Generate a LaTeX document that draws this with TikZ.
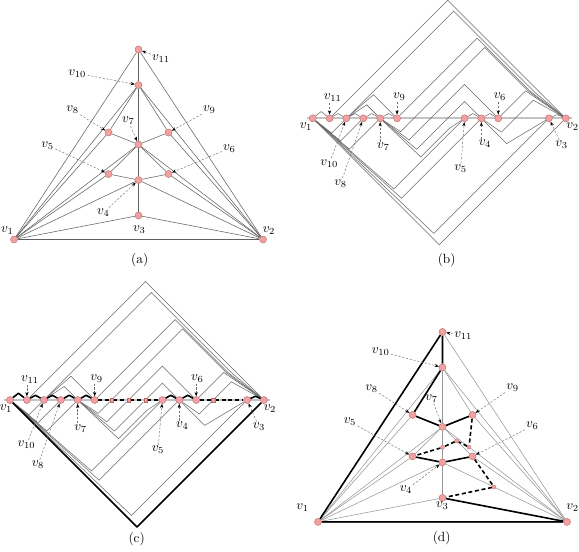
\documentclass[tikz,border=0pt]{standalone}
\usetikzlibrary{arrows.meta,calc}
\definecolor{nodefill}{RGB}{242,160,160}
\definecolor{nodedraw}{RGB}{185,105,105}
\definecolor{edgeA}{RGB}{95,95,95}
\definecolor{edgeB}{RGB}{105,105,105}
\definecolor{edgeD}{RGB}{150,150,150}
\definecolor{spinec}{RGB}{195,195,195}
\definecolor{arrowc}{RGB}{110,110,110}
\pgfdeclarelayer{background}
\pgfsetlayers{background,main}
\tikzset{
 vtx/.style={circle,fill=nodefill,draw=nodedraw,line width=0.3pt,inner sep=0pt,minimum size=5.3pt},
 dumsq/.style={rectangle,fill=nodefill,draw=nodedraw,line width=0.25pt,inner sep=0pt,minimum size=2.6pt},
 dumci/.style={circle,fill=nodefill,draw=nodedraw,line width=0.25pt,inner sep=0pt,minimum size=3pt},
 eA/.style={draw=edgeA,line width=0.4pt},
 eB/.style={draw=edgeB,line width=0.4pt},
 eD/.style={draw=edgeD,line width=0.4pt},
 thk/.style={draw=black,line width=1.2pt,line join=round},
 thkdash/.style={draw=black,line width=1.2pt,dash pattern=on 3pt off 2pt},
 spine/.style={draw=spinec,line width=1.3pt},
 lab/.style={inner sep=0.8pt,font=\fontsize{10}{12}\selectfont},
 captxt/.style={inner sep=0pt,font=\fontsize{10}{12}\selectfont},
 la/.style={draw=arrowc,line width=0.35pt,dash pattern=on 1.6pt off 1.3pt,-{Stealth[length=3.2pt,width=2.4pt,black]}},
}
\newcommand{\trinodes}[1]{%
 \node[vtx] (#1v1) at (14,239.5) {};
 \node[vtx] (#1v2) at (263,239.5) {};
 \node[vtx] (#1v3) at (138.5,215.5) {};
 \node[vtx] (#1v4) at (138.5,180) {};
 \node[vtx] (#1v5) at (108.5,174) {};
 \node[vtx] (#1v6) at (168.5,174) {};
 \node[vtx] (#1v7) at (138.5,144.5) {};
 \node[vtx] (#1v8) at (108.5,132.5) {};
 \node[vtx] (#1v9) at (168.5,132.5) {};
 \node[vtx] (#1v10) at (138.5,85) {};
 \node[vtx] (#1v11) at (138.5,49.5) {};
}
\newcommand{\triedges}[2]{%
 \foreach \ea/\eb in {1/2,1/3,2/3,3/4,1/4,2/4,4/5,1/5,4/6,2/6,4/7,5/7,6/7,1/7,2/7,1/8,7/8,2/9,7/9,1/10,8/10,7/10,9/10,2/10,1/11,10/11,2/11}
 {\draw[#2] (#1v\ea) -- (#1v\eb);}
}
\newcommand{\booknodes}[1]{%
 \node[vtx] (#1v1) at (0,0) {};
 \node[vtx] (#1v11) at (1,0) {};
 \node[vtx] (#1v10) at (2,0) {};
 \node[vtx] (#1v8) at (3,0) {};
 \node[vtx] (#1v7) at (4,0) {};
 \node[vtx] (#1v9) at (5,0) {};
 \node[vtx] (#1v5) at (9,0) {};
 \node[vtx] (#1v4) at (10,0) {};
 \node[vtx] (#1v6) at (11,0) {};
 \node[vtx] (#1v3) at (14,0) {};
 \node[vtx] (#1v2) at (15,0) {};
}
\newcommand{\bookedges}[1]{%
 % upper page: short arcs
 \draw[eB] (#1v1) -- (0.5,0.4) -- (#1v11);
 \draw[eB] (#1v11) -- (1.5,0.28) -- (#1v10);
 \draw[eB] (#1v10) -- (2.5,0.28) -- (#1v8);
 \draw[eB] (#1v8) -- (3.5,0.28) -- (#1v7);
 \draw[eB] (#1v7) -- (4.5,0.28) -- (#1v9);
 \draw[eB] (#1v5) -- (9.5,0.28) -- (#1v4);
 \draw[eB] (#1v4) -- (10.5,0.28) -- (#1v6);
 \draw[eB] (#1v3) -- (14.5,0.22) -- (#1v2);
 % upper page: long arcs
 \draw[eB] (#1v11) -- (8,7) -- (#1v2);
 \draw[eB] (#1v10) -- (8.35,6.35) -- (13.1,1.6) -- (#1v2);
 \draw[eB] (#1v9) -- (9.75,4.75) -- (12.9,1.6) -- (#1v2);
 \draw[eB] (#1v6) -- (12.625,1.625) -- (#1v2);
 \draw[eB] (#1v10) -- (3.6,1.4) -- (#1v9);
 \draw[eB] (#1v10) -- (3.2,0.8) -- (#1v7);
 % edges crossing the spine
 \draw[eB] (#1v7) -- (5.212,-0.788) -- (#1p6) -- (10.2,4.2) -- (12.8,1.6) -- (#1v2);
 \draw[eB] (#1v7) -- (5.714,-1.286) -- (#1p7) -- (9,2) -- (#1v6);
 \draw[eB] (#1v7) -- (6.162,-1.838) -- (#1p8) -- (9,1) -- (#1v4);
 \draw[eB] (#1v4) -- (11.18,-0.82) -- (#1p12) -- (13.075,1.075) -- (#1v2);
 % lower page
 \draw[eB] (#1v1) -- (7.5,-7.5) -- (#1v2);
 \draw[eB] (#1v1) -- (7.179,-6.821) -- (#1v3);
 \draw[eB] (#1v1) -- (5.263,-4.737) -- (#1v4);
 \draw[eB] (#1v1) -- (4.813,-4.187) -- (#1v5);
 \draw[eB] (#1v1) -- (2.174,-1.826) -- (#1v7);
 \draw[eB] (#1v1) -- (1.657,-1.343) -- (#1v8);
 \draw[eB] (#1v1) -- (1.124,-0.876) -- (#1v10);
 \draw[eB] (#1v7) -- (6.41,-2.29) -- (8.1,-0.6) -- (#1v5);
 \draw[eB] (#1v4) -- (11.5,-1.5) -- (#1v3);
}
\newcommand{\booklabels}[2]{%
 \node[lab] (#1l1) at (#2,126.7) {$v_1$};
 \node[lab] (#1l2) at (572.7,126.7) {$v_2$};
 \node[lab] (#1l11) at (332.7,97.7) {$v_{11}$};
 \node[lab] (#1l9) at (399.3,96.7) {$v_9$};
 \node[lab] (#1l6) at (500,96.7) {$v_6$};
 \node[lab] (#1l10) at (329.3,163.3) {$v_{10}$};
 \node[lab] (#1l8) at (340.7,183.3) {$v_8$};
 \node[lab] (#1l7) at (383.3,146.7) {$v_7$};
 \node[lab] (#1l5) at (460.7,168.3) {$v_5$};
 \node[lab] (#1l4) at (485,144) {$v_4$};
 \node[lab] (#1l3) at (561.7,145) {$v_3$};
 \draw[la] (#1l11.south -| #1v11) -- (#1v11);
 \draw[la] (#1l9.south -| #1v9) -- (#1v9);
 \draw[la] (#1l6.south -| #1v6) -- (#1v6);
 \draw[la] (#1l7.north -| #1v7) -- (#1v7);
 \draw[la] (#1l4.north -| #1v4) -- (#1v4);
 \draw[la] (#1l10) -- (#1v10);
 \draw[la] (#1l8) -- (#1v8);
 \draw[la] (#1l5) -- (#1v5);
 \draw[la] (#1l3) -- (#1v3);
}
\begin{document}
\begin{tikzpicture}[x=0.75pt,y=-0.75pt]
\useasboundingbox (0,0) rectangle (579,551);
% ---------------- (a)
\trinodes{a}
\begin{pgfonlayer}{background}
\triedges{a}{eA}
\end{pgfonlayer}
\node[lab] (al11) at (161,58.3) {$v_{11}$};
\node[lab] (al10) at (77.3,73.3) {$v_{10}$};
\node[lab] (al8) at (72.7,110) {$v_8$};
\node[lab] (al9) at (209.3,110) {$v_9$};
\node[lab] (al7) at (128.3,121) {$v_7$};
\node[lab] (al5) at (47.7,145.3) {$v_5$};
\node[lab] (al6) at (229.3,148.3) {$v_6$};
\node[lab] (al4) at (103.3,212.7) {$v_4$};
\node[lab] (al3) at (139.3,230) {$v_3$};
\node[lab] (al1) at (7.3,230.7) {$v_1$};
\node[lab] (al2) at (269,230.7) {$v_2$};
\foreach \k in {11,10,8,9,7,5,6,4} {\draw[la] (al\k) -- (av\k);}
\node[captxt] (capa) at (139.7,260) {(a)};
% ---------------- (b)
\begin{scope}[shift={(312.7,118.3)},x=12.6525pt,y=12.6525pt]
\booknodes{b}
\coordinate (bp6) at (6,0);
\coordinate (bp7) at (7,0);
\coordinate (bp8) at (8,0);
\coordinate (bp12) at (12,0);
\begin{pgfonlayer}{background}
\draw[spine] (-0.36,0) -- (15.35,0);
\bookedges{b}
\end{pgfonlayer}
\end{scope}
\booklabels{b}{306}
\node[captxt] (capb) at (446.7,260) {(b)};
% ---------------- (c)
\begin{scope}[shift={(10,400)},x=12.6975pt,y=12.6975pt]
\booknodes{c}
\node[dumsq] (cp6) at (6,0) {};
\node[dumsq] (cp7) at (7,0) {};
\node[dumsq] (cp8) at (8,0) {};
\node[dumsq] (cp12) at (12,0) {};
\begin{pgfonlayer}{background}
\draw[spine] (-0.36,0) -- (15.35,0);
\bookedges{c}
\draw[thk] (cv1) -- (0.5,0.4) -- (cv11) -- (1.5,0.28) -- (cv10) -- (2.5,0.28) -- (cv8) -- (3.5,0.28) -- (cv7) -- (4.5,0.28) -- (cv9);
\draw[thkdash] (cv9) -- (cp6) -- (cp7) -- (cp8) -- (cv5);
\draw[thk] (cv5) -- (9.5,0.28) -- (cv4) -- (10.5,0.28) -- (cv6);
\draw[thkdash] (cv6) -- (cp12) -- (cv3);
\draw[thk] (cv3) -- (14.5,0.22) -- (cv2);
\draw[thk] (cv1) -- (7.5,-7.5) -- (cv2);
\end{pgfonlayer}
\end{scope}
\begin{scope}[shift={(-302.7,281.7)}]
\booklabels{c}{308.7}
\end{scope}
\node[captxt] (capc) at (136.7,539) {(c)};
% ---------------- (d)
\begin{scope}[shift={(304,282.4)}]
\trinodes{d}
\node[dumci] (dx1) at (165.02,164.74) {};
\node[dumci] (dx2) at (152.69,158.45) {};
\node[dumci] (dx3) at (138.5,165) {};
\node[dumci] (dx4) at (190.01,204.62) {};
\end{scope}
\begin{pgfonlayer}{background}
\triedges{d}{eD}
\draw[thk] (dv1) -- (dv11) -- (dv10) -- (dv8) -- (dv7) -- (dv9);
\draw[thk] (dv5) -- (dv4) -- (dv6);
\draw[thk] (dv3) -- (dv2) -- (dv1);
\draw[thkdash] (dv9) -- (dx1) -- (dx2) -- (dx3) -- (dv5);
\draw[thkdash] (dv6) -- (dx4) -- (dv3);
\end{pgfonlayer}
\node[lab] (dl11) at (463.3,336) {$v_{11}$};
\node[lab] (dl10) at (380.7,351.7) {$v_{10}$};
\node[lab] (dl8) at (371.7,388.3) {$v_8$};
\node[lab] (dl9) at (512.7,387.3) {$v_9$};
\node[lab] (dl7) at (431.7,398.3) {$v_7$};
\node[lab] (dl5) at (350,421.7) {$v_5$};
\node[lab] (dl6) at (532.3,426) {$v_6$};
\node[lab] (dl4) at (406,490) {$v_4$};
\node[lab] (dl3) at (442.3,506) {$v_3$};
\node[lab] (dl1) at (302.7,507.3) {$v_1$};
\node[lab] (dl2) at (572.7,507.3) {$v_2$};
\foreach \k in {11,10,8,9,7,5,6,4} {\draw[la] (dl\k) -- (dv\k);}
\node[captxt] (capd) at (441.7,538.3) {(d)};
\end{tikzpicture}
\end{document}
